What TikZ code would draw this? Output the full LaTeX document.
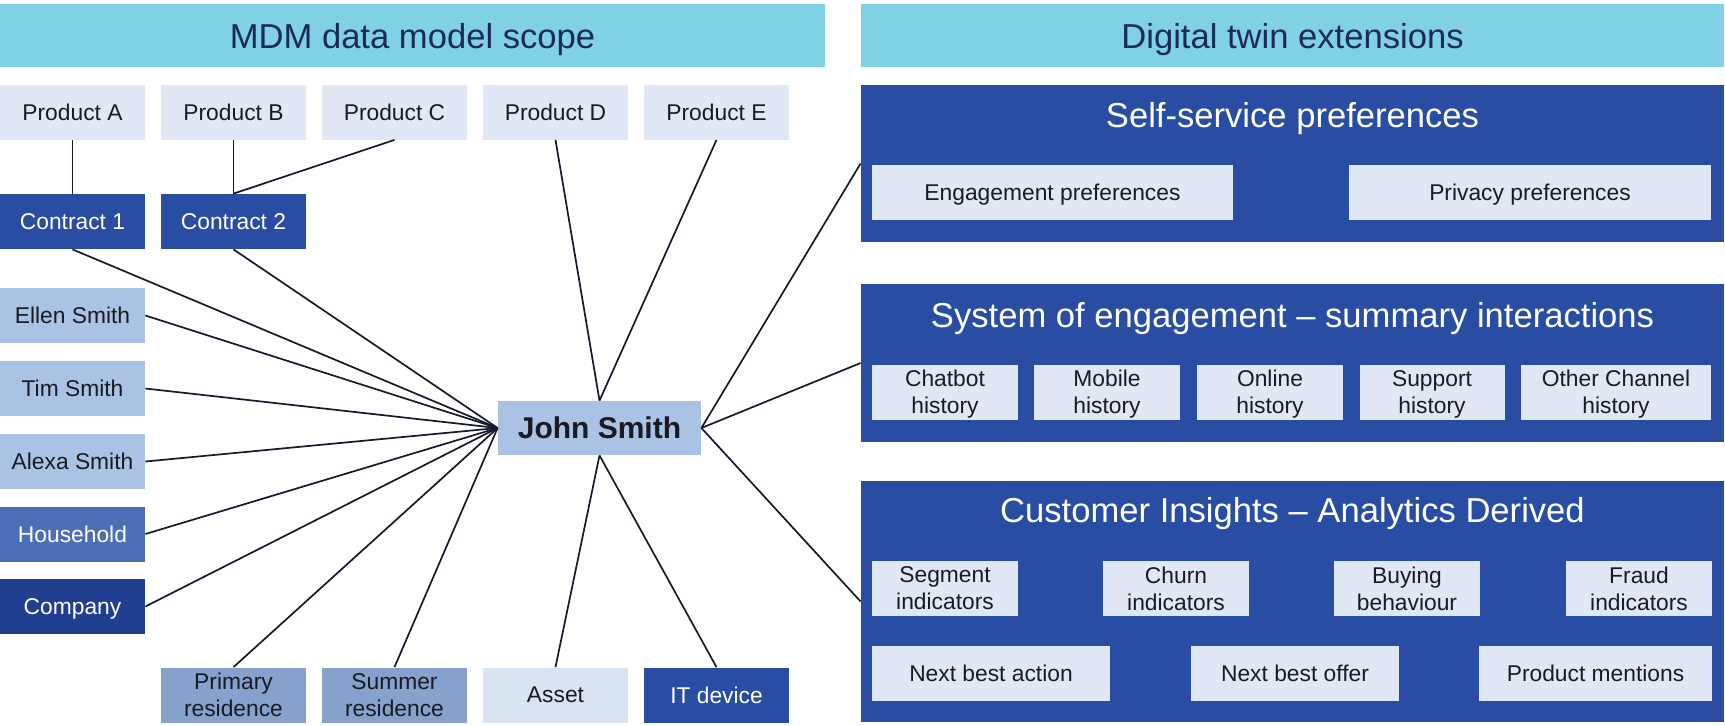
\documentclass[tikz,border=0pt]{standalone}
\usepackage{fontspec}
\setmainfont{Liberation Sans}

\definecolor{hdrcyan}{HTML}{7FD1E3}
\definecolor{hdrink}{HTML}{1C2A5A}
\definecolor{deepblue}{HTML}{284DA2}
\definecolor{darkblue}{HTML}{213F91}
\definecolor{midblue}{HTML}{4C6EB6}
\definecolor{softblue}{HTML}{86A1CC}
\definecolor{lightblue}{HTML}{AAC3E4}
\definecolor{paleblue}{HTML}{E1E8F5}
\definecolor{paleasset}{HTML}{D9E3F3}
\definecolor{inkdark}{HTML}{1A1A22}
\definecolor{wire}{HTML}{16182C}

\begin{document}
\begin{tikzpicture}[x=0.5pt, y=-0.5pt,
  box/.style={inner sep=0pt, minimum width=72.5pt, minimum height=27.5pt,
    align=center, text depth=0pt, font=\fontsize{11.4}{13.5}\selectfont},
  palebox/.style={box, fill=paleblue, text=inkdark},
  lightbox/.style={box, fill=lightblue, text=inkdark},
  softbox/.style={box, fill=softblue, text=inkdark},
  deepbox/.style={box, fill=deepblue, text=white},
  header/.style={fill=hdrcyan, text=hdrink, inner sep=0pt, minimum height=31.5pt,
    text depth=0pt, font=\fontsize{17.3}{20}\selectfont},
  panel/.style={fill=deepblue, inner sep=0pt, minimum width=431.5pt},
  paneltitle/.style={text=white, inner sep=0pt, text depth=0pt,
    font=\fontsize{17.3}{20}\selectfont},
  link/.style={draw=wire, line width=0.85pt}
]
\useasboundingbox (0,0) rectangle (1725,725);

% headers
\node[header, minimum width=412.5pt] (mdmhead) at (412.5,35.5) {MDM data model scope};
\node[header, minimum width=431.5pt] (twinhead) at (1292.5,35.5) {Digital twin extensions};

% products and contracts
\node[palebox] (proda) at (72.5,112) {Product A};
\node[palebox] (prodb) at (233.5,112) {Product B};
\node[palebox] (prodc) at (394.5,112) {Product C};
\node[palebox] (prodd) at (555.5,112) {Product D};
\node[palebox] (prode) at (716.5,112) {Product E};
\node[deepbox] (contract1) at (72.5,221.5) {Contract 1};
\node[deepbox] (contract2) at (233.5,221.5) {Contract 2};

% related parties
\node[lightbox] (ellen) at (72.5,315.5) {Ellen Smith};
\node[lightbox] (tim) at (72.5,388.5) {Tim Smith};
\node[lightbox] (alexa) at (72.5,461.5) {Alexa Smith};
\node[box, fill=midblue, text=white] (household) at (72.5,534) {Household};
\node[box, fill=darkblue, text=white] (company) at (72.5,606.5) {Company};

% locations and assets
\node[softbox] (primres) at (233.5,695) {Primary\\residence};
\node[softbox] (sumres) at (394.5,695) {Summer\\residence};
\node[box, fill=paleasset, text=inkdark] (asset) at (555.5,695) {Asset};
\node[deepbox] (itdev) at (716.5,695) {IT device};

% the customer
\node[lightbox, minimum width=101.5pt, minimum height=27pt,
  font=\fontsize{15}{18}\selectfont\bfseries] (john) at (599.5,428) {John Smith};

% digital twin panels
\node[panel, minimum height=78.5pt] (selfsvc) at (1292.5,163.5) {};
\node[paneltitle] (selfsvctitle) at (1292.5,115) {Self-service preferences};
\node[palebox, minimum width=180.5pt] (engpref) at (1052.5,192.5) {Engagement preferences};
\node[palebox, minimum width=181pt] (privpref) at (1530,192.5) {Privacy preferences};

\node[panel, minimum height=79pt] (engage) at (1292.5,363) {};
\node[paneltitle] (engagetitle) at (1292.5,315) {System of engagement -- summary interactions};
\node[palebox, minimum width=73pt] (chatbot) at (945,392) {Chatbot\\history};
\node[palebox, minimum width=73pt] (mobile) at (1107,392) {Mobile\\history};
\node[palebox, minimum width=73pt] (online) at (1270,392) {Online\\history};
\node[palebox] (support) at (1432,392) {Support\\history};
\node[palebox, minimum width=95pt] (otherch) at (1616,392) {Other Channel\\history};

\node[panel, minimum height=120.5pt] (insights) at (1292.5,601.5) {};
\node[paneltitle] (insightstitle) at (1292.5,510) {Customer Insights -- Analytics Derived};
\node[palebox, minimum width=73pt] (segment) at (945,588.5) {Segment\\indicators};
\node[palebox, minimum width=73pt] (churn) at (1176,588.5) {Churn\\indicators};
\node[palebox, minimum width=73pt] (buying) at (1407,588.5) {Buying\\behaviour};
\node[palebox, minimum width=73pt] (fraud) at (1639,588.5) {Fraud\\indicators};
\node[palebox, minimum width=119pt] (nba) at (991,673) {Next best action};
\node[palebox, minimum width=104pt] (nbo) at (1295,673) {Next best offer};
\node[palebox, minimum width=116.5pt] (prodment) at (1595.5,673) {Product mentions};

% connectors
\draw[link] (proda.south) -- (contract1.north);
\draw[link] (prodb.south) -- (contract2.north);
\draw[link] (prodc.south) -- (contract2.north);
\foreach \src/\at in {contract1/south, contract2/south, ellen/east, tim/east,
    alexa/east, household/east, company/east, primres/north, sumres/north}
  \draw[link] (\src.\at) -- (john.west);
\draw[link] (prodd.south) -- (john.north);
\draw[link] (prode.south) -- (john.north);
\draw[link] (asset.north) -- (john.south);
\draw[link] (itdev.north) -- (john.south);
\foreach \dst in {selfsvc, engage, insights}
  \draw[link] (john.east) -- (\dst.west);
\end{tikzpicture}
\end{document}
